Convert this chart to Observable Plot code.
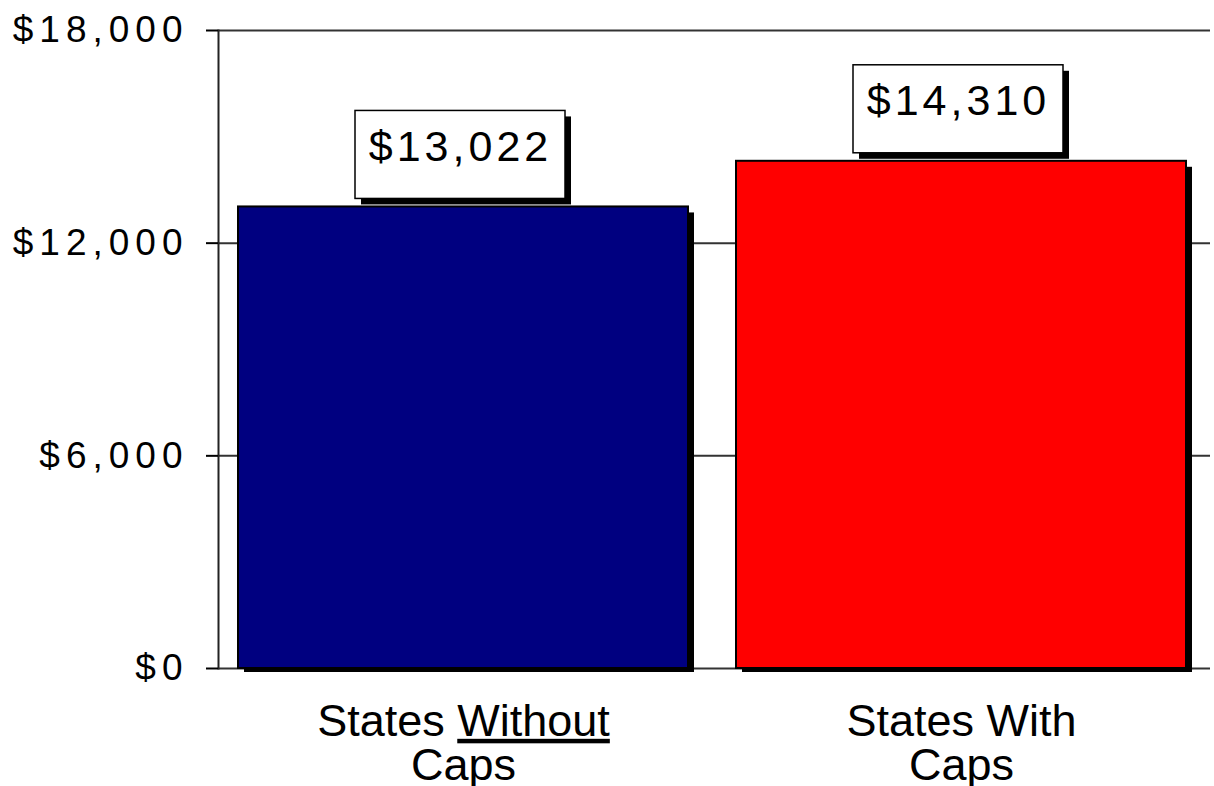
<!DOCTYPE html>
<html><head><meta charset="utf-8">
<script src="https://cdn.jsdelivr.net/npm/d3@7"></script>
<script src="https://cdn.jsdelivr.net/npm/@observablehq/plot@0.6"></script>
<style>
body{margin:0;background:#fff;}
svg{font-family:"Liberation Sans",Arial,sans-serif;}
g[aria-label="y-axis tick label"] text{letter-spacing:6px;}
g[aria-label="text"] text{letter-spacing:4px;}
</style></head><body><div id="chart"></div>
<script>
const categories = ["States Without Caps", "States With Caps"];
const values = [13022, 14310];
const barColors = ["#000080", "#ff0000"];
const yTicks = [0, 6000, 12000, 18000];
const xTickLabels = ["States Without\nCaps", "States With\nCaps"];
const valueLabels = ["$13,022", "$14,310"];

const data = categories.map((c, i) => ({category: c, value: values[i], label: valueLabels[i]}));
const fmt = d => "$" + d3.format(",")(d);

const plot = Plot.plot({
  width: 1214, height: 786,
  marginLeft: 218, marginRight: 4, marginTop: 30, marginBottom: 118,
  style: {fontFamily: '"Liberation Sans", Arial, sans-serif', background: "white", color: "black"},
  x: {domain: categories, paddingInner: 0.0964, paddingOuter: 0.044, align: 0.455, axis: null, label: null},
  y: {domain: [0, 18000], axis: null, label: null},
  color: {domain: categories, range: barColors},
  marks: [
    Plot.ruleY(yTicks, {stroke: "#333", strokeWidth: 2}),
    Plot.barY(data, {x: "category", y: "value", fill: "black", dx: 6, dy: 6, insetBottom: 2}),
    Plot.barY(data, {x: "category", y: "value", fill: "category", stroke: "black", strokeWidth: 2}),
    Plot.barY(data, {x: "category", y1: "value", y2: "value", insetTop: -96, insetBottom: 8, insetLeft: 120, insetRight: 120, dx: 3, dy: 6, fill: "black"}),
    Plot.barY(data, {x: "category", y1: "value", y2: "value", insetTop: -96, insetBottom: 8, insetLeft: 120, insetRight: 120, dx: -3, fill: "white", stroke: "black", strokeWidth: 1.5}),
    Plot.text(data, {x: "category", y: "value", text: "label", dy: -60, dx: -3, fontSize: 43, fill: "black"}),
    Plot.frame({anchor: "left", stroke: "#222", strokeWidth: 2}),
    Plot.axisY({ticks: yTicks, tickSize: 12, tickPadding: 18, tickFormat: fmt, fontSize: 37, strokeWidth: 2, label: null}),
    Plot.axisX({tickSize: 0, tickPadding: 36, tickFormat: d => xTickLabels[categories.indexOf(d)], fontSize: 45, lineHeight: 0.98, label: null})
  ]
});

// underline the word "Without"
plot.querySelectorAll('g[aria-label="x-axis tick label"] tspan').forEach(t => {
  if (t.textContent === "States Without") {
    t.textContent = "States ";
    const u = document.createElementNS("http://www.w3.org/2000/svg", "tspan");
    u.setAttribute("text-decoration", "underline");
    u.style.textDecoration = "underline";
    u.textContent = "Without";
    t.appendChild(u);
  }
});

document.getElementById("chart").appendChild(plot);
</script></body></html>
